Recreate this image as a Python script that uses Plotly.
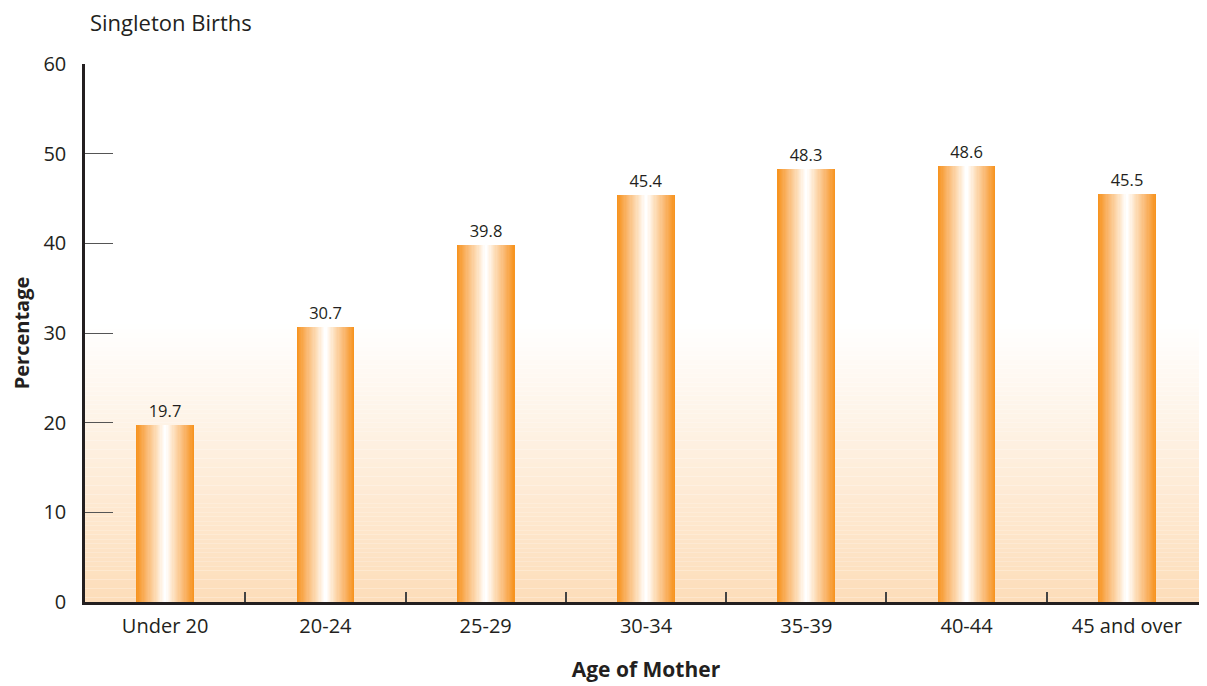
import plotly.graph_objects as go

categories = ["Under 20", "20-24", "25-29", "30-34", "35-39", "40-44", "45 and over"]
values = [19.7, 30.7, 39.8, 45.4, 48.3, 48.6, 45.5]
y_ticks = [0, 10, 20, 30, 40, 50, 60]

FONT = "Open Sans"
DARK = "#231F20"

def lerp(c1, c2, t):
    return tuple(round(a + (b - a) * t) for a, b in zip(c1, c2))

def hexc(c):
    return "#%02X%02X%02X" % c

# bar gradient: edge -> centre
stops = [(0.0, (247, 148, 32)), (0.35, (250, 184, 112)), (0.7, (253, 222, 186)),
         (0.9, (255, 245, 234)), (1.0, (255, 255, 255))]

def bar_color(t):
    for (t0, c0), (t1, c1) in zip(stops[:-1], stops[1:]):
        if t0 <= t <= t1:
            return hexc(lerp(c0, c1, (t - t0) / (t1 - t0)))
    return hexc(stops[-1][1])

fig = go.Figure()
N = 24
W = 0.36
for k in range(N):
    t = k / (N - 1)
    w = W * (1 - k / N)
    fig.add_trace(go.Bar(
        x=categories, y=values, width=w,
        marker=dict(color=bar_color(t), line=dict(width=0)),
        text=[f"{v:.1f}" for v in values] if k == 0 else None,
        textposition="outside" if k == 0 else "none",
        textfont=dict(family=FONT, size=16.5, color=DARK),
        cliponaxis=False, hoverinfo="skip", showlegend=False,
    ))

# background gradient bands (0 -> ~31)
shapes = []
bg_bottom = (253, 221, 185)
top = 31.0
nb = 62
for i in range(nb):
    y0 = top * i / nb
    y1 = top * (i + 1) / nb
    t = (i + 0.5) / nb
    shapes.append(dict(type="rect", xref="paper", yref="y", x0=0, x1=1, y0=y0, y1=y1,
                       fillcolor=hexc(lerp(bg_bottom, (255, 255, 255), t)),
                       line=dict(width=0), layer="below"))

fig.update_layout(
    width=1199, height=678,
    margin=dict(l=77, r=0, t=56, b=84),
    paper_bgcolor="white", plot_bgcolor="white",
    barmode="overlay", bargap=0,
    shapes=shapes,
    font=dict(family=FONT, color=DARK),
    annotations=[dict(text="Singleton Births", xref="paper", yref="paper",
                      x=(88 - 85) / 1122, y=(602 - 22) / 538, xanchor="left", yanchor="middle",
                      showarrow=False, font=dict(family=FONT, size=22, color=DARK))],
)
fig.update_xaxes(
    type="category", range=[-0.5, 6.5],
    showline=True, linewidth=2.5, linecolor=DARK,
    ticks="inside", tickson="boundaries", ticklen=10, tickwidth=1.5, tickcolor="#444",
    tickfont=dict(family=FONT, size=20, color=DARK), ticklabelstandoff=4,
    showgrid=False, zeroline=False,
    title=dict(text="<b>Age of Mother</b>", font=dict(family=FONT, size=21, color=DARK), standoff=25),
)
fig.update_yaxes(
    range=[0, 60], tickvals=y_ticks,
    showline=True, linewidth=2.5, linecolor=DARK,
    ticks="inside", ticklen=28, tickwidth=1.2, tickcolor="#555",
    tickfont=dict(family=FONT, size=20, color=DARK), ticklabelstandoff=12,
    showgrid=False, zeroline=False,
    title=dict(text="<b>Percentage</b>", font=dict(family=FONT, size=20, color=DARK), standoff=12),
)

fig.write_html("out.html")
